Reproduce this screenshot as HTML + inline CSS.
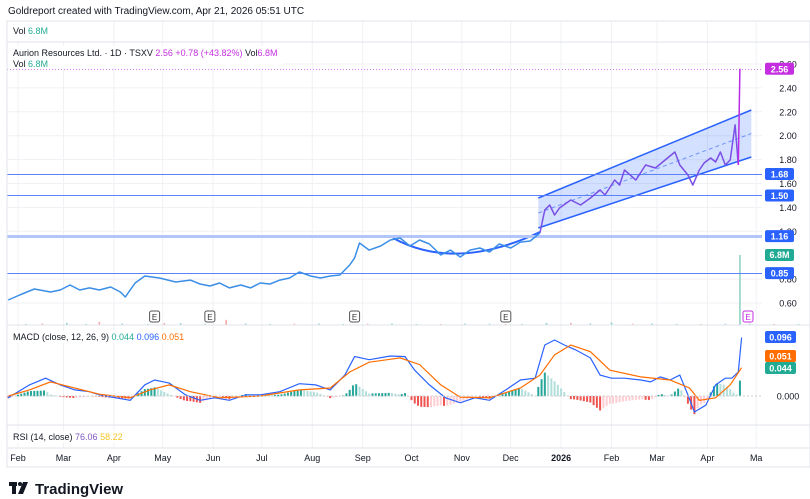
<!DOCTYPE html>
<html><head><meta charset="utf-8"><style>
body{margin:0;background:#fff;width:810px;height:499px;overflow:hidden;font-family:"Liberation Sans",sans-serif}
svg{position:absolute;left:0;top:0}
</style></head><body>
<svg id="c" width="810" height="499" font-family="Liberation Sans, sans-serif">
<g id="g"></g>
<rect x="7" y="21" width="803" height="446" fill="none" stroke="#e0e3eb"/>
<line x1="7" y1="42" x2="810" y2="42" stroke="#e0e3eb"/>
<line x1="7" y1="325" x2="810" y2="325" stroke="#e0e3eb"/>
<line x1="7" y1="425" x2="810" y2="425" stroke="#e0e3eb"/>
<line x1="7" y1="448" x2="810" y2="448" stroke="#e0e3eb"/>
<text x="8" y="14" font-size="10" fill="#131722">Goldreport created with TradingView.com, Apr 21, 2026 05:51 UTC</text>
<rect x="8" y="22" width="60" height="19" fill="#fff"/>
<text x="13" y="34" font-size="9" fill="#131722">Vol <tspan fill="#22ab94">6.8M</tspan></text>
<rect x="8" y="46" width="275" height="22" fill="#fff"/>
<text x="13" y="56" font-size="9" fill="#131722">Aurion Resources Ltd. · 1D · TSXV <tspan fill="#c42ee0">2.56 +0.78 (+43.82%)</tspan> Vol<tspan fill="#c42ee0">6.8M</tspan></text>
<text x="13" y="67" font-size="9" fill="#131722">Vol <tspan fill="#22ab94">6.8M</tspan></text>
<rect x="8" y="331" width="180" height="12" fill="#fff"/>
<text x="13" y="340" font-size="9" fill="#131722">MACD (close, 12, 26, 9) <tspan fill="#22ab94">0.044</tspan> <tspan fill="#2962ff">0.096</tspan> <tspan fill="#ff6d00">0.051</tspan></text>
<rect x="8" y="431" width="120" height="12" fill="#fff"/>
<text x="13" y="440" font-size="9" fill="#131722">RSI (14, close) <tspan fill="#7e57c2">76.06</tspan> <tspan fill="#f7c325">58.22</tspan></text>
<g><rect x="9" y="482" width="8" height="4" fill="#131722"/><rect x="12" y="482" width="4" height="12" fill="#131722"/><circle cx="20" cy="484" r="2" fill="#131722"/><polygon points="23,482 28,482 23,494 18,494" fill="#131722"/>
<text x="35" y="494" font-size="15" font-weight="bold" fill="#131722">TradingView</text></g>
<g id="g2"></g>
</svg>
<script>
const priceDays=[-6,1,10,20,26,32,38,44,50,57,63,66,72,78,87,97,106,112,118,124,130,137,143,149,155,161,167,173,180,186,192,198,204,207,210,216,223,229,235,241,247,253,260,266,272,278,284,290,296,303,309,315,321,324,327,330,333,340,346,352,358,361,367,370,373,380,386,392,398,404,407,412,415,419,422,426,429,432,435,438,441,443,444];
const prices=[0.625,0.667,0.717,0.692,0.709,0.751,0.709,0.726,0.709,0.734,0.692,0.650,0.767,0.826,0.809,0.776,0.792,0.759,0.742,0.767,0.726,0.751,0.726,0.767,0.759,0.792,0.809,0.859,0.826,0.809,0.826,0.834,0.918,0.977,1.102,1.043,1.077,1.127,1.144,1.077,1.127,1.094,1.002,1.043,0.985,1.043,1.060,1.027,1.094,1.060,1.110,1.119,1.186,1.378,1.420,1.336,1.395,1.462,1.420,1.479,1.546,1.504,1.629,1.587,1.713,1.629,1.755,1.730,1.797,1.864,1.755,1.671,1.587,1.713,1.772,1.813,1.780,1.864,1.755,1.797,2.090,1.755,2.56];
const macdDays=[-6,7,17,26,35,44,50,60,69,78,84,93,103,112,121,130,140,149,161,173,183,192,201,207,216,229,238,244,253,263,272,281,290,300,309,318,324,330,336,343,352,358,365,373,383,389,395,401,407,412,416,423,429,435,439,443,445];
const macdVals=[-3,18,29,18,10,7,2,-3,-7,18,26,21,2,-7,-3,-7,2,2,7,20,18,10,34,64,59,65,64,42,18,-3,-11,-3,-7,10,26,29,83,91,83,75,62,34,29,29,26,23,31,26,34,2,-26,-15,18,29,29,39,95];
const sigDays=[-6,7,20,32,50,69,81,93,106,124,149,173,192,204,216,235,247,260,272,290,309,321,330,340,352,364,383,401,413,419,429,438,445];
const sigVals=[0,10,23,15,3,-3,10,18,7,-3,0,10,13,39,55,62,51,18,-2,-3,13,34,67,83,72,42,31,26,13,-7,-3,18,46];
const volDays=[5,15,30,42,50,64,80,90,100,115,128,140,155,170,185,200,215,230,245,260,275,290,300,310,325,340,352,365,378,390,405,420,435,450,465,480,495,510,525,540,550,560,575,590,605,620,635,650,660,665,680,690,705,720,730,735,444];
const volVals=[0.1,0.15,0.2,0.1,0.3,0.15,0.1,0.2,0.18,0.12,0.5,0.15,0.1,0.12,0.15,0.1,0.12,0.15,0.1,0.1,0.14,0.12,0.1,0.1,0.2,0.2,0.15,0.25,0.12,0.15,0.1,0.1,0.12,0.12,0.1,0.1,0.12,0.15,0.14,0.2,0.25,0.3,0.2,0.18,0.2,0.2,0.22,0.25,0.3,0.9,0.2,0.3,0.25,0.2,0.3,0.4,6.8];
const priceTicks=[2.60,2.40,2.20,2.00,1.80,1.60,1.40,1.20,0.80,0.60];
const hLevels=[1.68,1.50,1.16,0.85];
const monthLabels=["Feb","Mar","Apr","May","Jun","Jul","Aug","Sep","Oct","Nov","Dec","2026","Feb","Mar","Apr","Ma"];
const monthDays=[0,28,59,89,120,150,181,212,242,273,303,334,365,393,424,454];
const earningsDays=[84,118,207,300];

const X=d=>18+d*1.626, Y=v=>64+(2.6-v)*119.5, MY=v=>396-v*0.615, VY=v=>325-v*10.3;
const NS='http://www.w3.org/2000/svg';
let g=document.getElementById('g');
function mk(t,a,txt){const e=document.createElementNS(NS,t);for(const k in a)e.setAttribute(k,a[k]);if(txt!=null)e.textContent=txt;g.appendChild(e);return e;}
monthDays.forEach(d=>{const l=mk('line',{x1:X(d),y1:21,x2:X(d),y2:448,stroke:'#f0f1f4'});});
priceTicks.forEach(v=>{const l=mk('line',{x1:7,y1:Y(v),x2:762,y2:Y(v),stroke:'#f0f1f4'});
const t=mk('text',{x:788,y:Y(v)+3.5,'font-size':9,fill:'#131722','text-anchor':'middle'},v.toFixed(2));});
monthLabels.forEach((m,i)=>{const t=mk('text',{x:X(monthDays[i]),y:461,'font-size':9,fill:'#131722','text-anchor':'middle','font-weight':m==='2026'?'bold':'normal'},m);});
volDays.forEach((d,i)=>{const up=(i===volDays.length-1)||i%3!==1;const r=mk('rect',{x:X(d)-0.8,y:VY(volVals[i]),width:1.6,height:325-VY(volVals[i]),fill:up?'#8fd3c7':'#f7a9a7'});});
const cx1=X(320),cx2=X(451);
const ch=mk('polygon',{points:`${cx1},198 ${cx2},110 ${cx2},157 ${cx1},228`,fill:'rgba(41,98,255,0.2)'});
mk('line',{x1:cx1,y1:198,x2:cx2,y2:110,stroke:'#2962ff','stroke-width':1.5});
mk('line',{x1:cx1,y1:228,x2:cx2,y2:157,stroke:'#2962ff','stroke-width':1.5});
mk('line',{x1:cx1,y1:213,x2:cx2,y2:133.5,stroke:'#2962ff','stroke-dasharray':'4 3','stroke-opacity':0.6});
const arc=mk('path',{d:'M393 238 Q455 272 540 232',fill:'none',stroke:'#2962ff','stroke-width':2});
hLevels.forEach(v=>{const thick=Math.abs(v-1.16)<1e-6;const yy=Math.round(Y(v))+0.5;const l=mk('rect',{x:7,y:yy-(thick?1.5:0.5),width:755,height:thick?3:1,fill:thick?'#b3c6fb':'#5b82f8'});});
const py=Math.round(Y(2.56))+0.5;
mk('line',{x1:7,y1:py,x2:762,y2:py,stroke:'#d77bf0','stroke-dasharray':'1 2'});
function seg(a,b,col,name){let p='';for(let i=a;i<=b;i++)p+=(i===a?'M':'L')+X(priceDays[i]).toFixed(1)+' '+Y(prices[i]).toFixed(1);const e=mk('path',{d:p,fill:'none',stroke:col,'stroke-width':1.5,'stroke-linejoin':'round'});}
const split=priceDays.findIndex(d=>d>=321);
seg(0,split,'#3b8ee8','price-line');
seg(split,prices.length-2,'#7a4fe6','price-line-channel');
seg(prices.length-2,prices.length-1,'#b92be6','price-spike');
earningsDays.forEach(d=>{mk('rect',{x:X(d)-5,y:311,width:10,height:11,rx:2,fill:'#fff',stroke:'#555'});const t=mk('text',{x:X(d),y:320,'font-size':8,fill:'#333','text-anchor':'middle'},'E');});
mk('rect',{x:743,y:311,width:10,height:11,rx:2,fill:'#fff',stroke:'#c42ee0'});mk('text',{x:748,y:320,'font-size':8,fill:'#c42ee0','text-anchor':'middle'},'E');
function interp(ds,vs,d){if(d<=ds[0])return vs[0];for(let i=1;i<ds.length;i++)if(d<=ds[i]){const t=(d-ds[i-1])/(ds[i]-ds[i-1]);return vs[i-1]+t*(vs[i]-vs[i-1]);}return vs[vs.length-1];}
let prev=null;
for(let d=-6;d<=445;d+=2){const h=interp(macdDays,macdVals,d)-interp(sigDays,sigVals,d);const grow=prev===null||Math.abs(h)>=Math.abs(prev);prev=h;
const col=h>=0?(grow?'#26a69a':'#b2dfdb'):(grow?'#ef5350':'#ffcdd2');
const y0=MY(0),y1=MY(h);const r=mk('rect',{x:X(d)-1,y:Math.min(y0,y1),width:2,height:Math.abs(y1-y0)+0.3,fill:col});}
function line(ds,vs,col,name){let p='';ds.forEach((d,i)=>p+=(i?'L':'M')+X(d).toFixed(1)+' '+MY(vs[i]).toFixed(1));const e=mk('path',{d:p,fill:'none',stroke:col,'stroke-width':1.2});}
line(macdDays,macdVals,'#2962ff','macd-line');
line(sigDays,sigVals,'#ff6d00','signal-line');
mk('line',{x1:7,y1:MY(0),x2:762,y2:MY(0),stroke:'#ccc','stroke-dasharray':'2 2'});
mk('text',{x:788,y:MY(0)+3.5,'font-size':9,fill:'#131722','text-anchor':'middle'},'0.000');
g=document.getElementById('g2');
hLevels.forEach(v=>{mk('rect',{x:765,y:Y(v)-6,width:29,height:12,rx:2,fill:'#2962ff'});
const t=mk('text',{x:779.5,y:Y(v)+3.5,'font-size':9,fill:'#fff','text-anchor':'middle','font-weight':'bold'},v.toFixed(2));});
mk('rect',{x:765,y:Y(2.56)-6,width:29,height:12,rx:2,fill:'#c42ee0'});
mk('text',{x:779.5,y:Y(2.56)+3.5,'font-size':9,fill:'#fff','text-anchor':'middle','font-weight':'bold'},'2.56');
mk('rect',{x:765,y:249,width:29,height:12,rx:2,fill:'#22ab94'});
mk('text',{x:779.5,y:258,'font-size':9,fill:'#fff','text-anchor':'middle','font-weight':'bold'},'6.8M');
[[96,'#2962ff',337],[51,'#ff6d00',356],[44,'#22ab94',368]].forEach(([v,c,y])=>{mk('rect',{x:765,y:y-6,width:31,height:12,rx:2,fill:c});mk('text',{x:780.5,y:y+3.5,'font-size':9,fill:'#fff','text-anchor':'middle','font-weight':'bold'},(v/1000).toFixed(3));});
</script>
</body></html>
